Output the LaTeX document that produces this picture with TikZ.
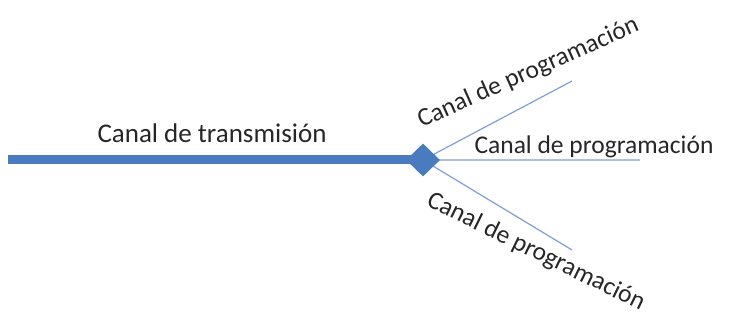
\documentclass[tikz,border=0pt]{standalone}
\usepackage{fontspec}
\setmainfont{Carlito}
\usepackage{tikz}
\usetikzlibrary{positioning,calc,shapes}
\definecolor{chanblue}{HTML}{4A7BBF}
\definecolor{branchblue}{HTML}{7F9FD0}

\begin{document}
\begin{tikzpicture}[x=1pt,y=-1pt,
				font=\fontsize{27}{32}\selectfont]
				\useasboundingbox (0,0) rectangle (731,328);
				\tikzstyle{hub}=[diamond,fill=chanblue,inner sep=0pt,minimum width=34pt,minimum height=33pt]
				\tikzstyle{trunk}=[draw=chanblue,line width=9pt]
				\tikzstyle{branch}=[draw=branchblue,line width=1.2pt]
				\tikzstyle{label}=[text=black!85,inner sep=0pt,anchor=base]
				\tikzstyle{sublabel}=[label,font=\fontsize{25.5}{30}\selectfont]
				\coordinate  (H) at (423,160);
				\coordinate  (S) at (8,160);
				\coordinate  (P1) at (572,81);
				\coordinate  (P2) at (640,160);
				\coordinate  (P3) at (572,250);
				
				\path[trunk] (S) -- (H);
				\path[branch] (H) -- (P1)
				(H) -- (P2)
				(H) -- (P3);
				\node[hub]   (D) at (H) {};
				
				\node[label] (T)  at (212,143) {Canal de transmisión};
				\node[sublabel,rotate=24]  (L1) at (531,79) {Canal de programación};
				\node[sublabel]            (L2) at (594,154) {Canal de programación};
				\node[sublabel,rotate=-26] (L3) at (533,258) {Canal de programación};
			\end{tikzpicture}
\end{document}
